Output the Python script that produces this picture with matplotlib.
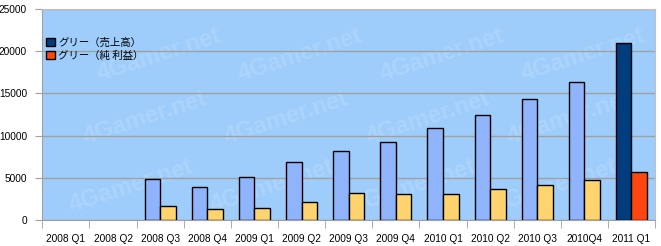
import numpy as np
import matplotlib.pyplot as plt
from matplotlib.patches import Patch

plt.rcParams['font.family'] = ['Liberation Sans', 'Noto Sans CJK JP', 'DejaVu Sans']

quarters = ["2008 Q1", "2008 Q2", "2008 Q3", "2008 Q4", "2009 Q1", "2009 Q2", "2009 Q3",
            "2009 Q4", "2010 Q1", "2010 Q2", "2010 Q3", "2010Q4", "2011 Q1"]
sales = [0, 0, 4860, 3910, 5100, 6870, 8180, 9240, 10900, 12440, 14340, 16350, 20970]
profit = [0, 0, 1660, 1300, 1420, 2130, 3200, 3080, 3080, 3670, 4150, 4740, 5690]
legend_labels = ["グリー（売上高）", "グリー（純 利益）"]

fig = plt.figure(figsize=(6.61, 2.46), dpi=100)
ax = fig.add_axes([0.064, 0.106, 0.927, 0.857])
ax.set_facecolor("#9fcdfb")

x = np.arange(len(quarters))
w = 0.33
sales_c = ["#8fb4fb"] * (len(quarters) - 1) + ["#003c7e"]
profit_c = ["#ffd36e"] * (len(quarters) - 1) + ["#ff4510"]
for i in x:
    if sales[i] > 0:
        ax.bar(i - w / 2, sales[i], w, color=sales_c[i], edgecolor="black", linewidth=1, zorder=3)
    if profit[i] > 0:
        ax.bar(i + w / 2, profit[i], w, color=profit_c[i], edgecolor="black", linewidth=1, zorder=3)

# faint watermark, kept inside the plot area
for row, yy in enumerate([1000, 9000, 16500]):
    for xx in [0.0, 3.0, 6.0, 9.0]:
        ax.text(xx + row * 0.3, yy, "4Gamer.net", fontsize=17, fontweight="bold",
                color="white", alpha=0.13, rotation=18, zorder=1)

ax.set_xlim(-0.5, 12.5)
ax.set_ylim(0, 25000)
ax.set_yticks(np.arange(0, 25001, 5000))
ax.yaxis.grid(True, color="#a0a0a0", linewidth=1, zorder=0)
ax.set_xticks(x)
ax.set_xticklabels(quarters, fontsize=7.3)
ax.set_xticks(np.arange(-0.5, 13, 1), minor=True)
ax.tick_params(axis="x", which="major", length=0, pad=10)
ax.tick_params(axis="x", which="minor", length=6, color="#a0a0a0")
ax.tick_params(axis="y", labelsize=7.3, length=5, color="#a0a0a0", pad=6)
for s in ["top", "right"]:
    ax.spines[s].set_color("#c0c0c0")
for s in ["left", "bottom"]:
    ax.spines[s].set_color("#a0a0a0")

handles = [Patch(facecolor="#003c7e", edgecolor="black"), Patch(facecolor="#ff4510", edgecolor="black")]
ax.legend(handles, legend_labels, loc="upper left", bbox_to_anchor=(-0.01, 0.91), frameon=False,
          handlelength=0.9, handleheight=0.9, handletextpad=0.3, labelspacing=0.25,
          prop={"family": ["Noto Sans CJK JP", "DejaVu Sans"], "size": 7.5})

fig.savefig("out.png", dpi=100)
